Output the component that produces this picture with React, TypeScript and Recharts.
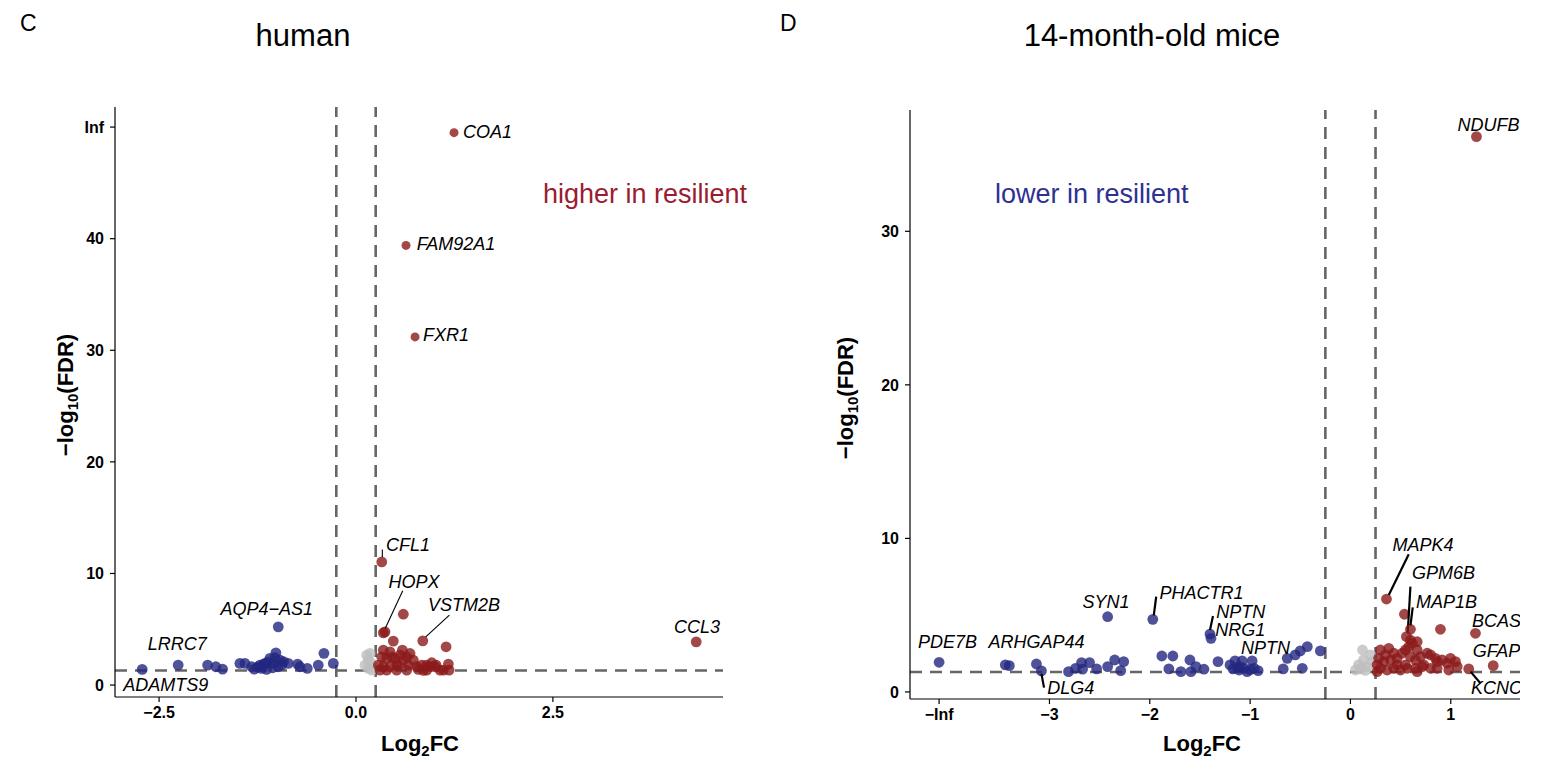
import React from "react"
import { ScatterChart, Scatter, XAxis, YAxis, ReferenceLine } from "recharts"

// ── Panel C: human ────────────────────────────────────────────────────
// [log2FC, -log10(FDR)]
const humanDown: [number, number][] = [
  [-1.884, 1.79], [-1.779, 1.64], [-1.694, 1.43], [-1.474, 1.94], [-1.41, 1.94],
  [-1.325, 1.64], [-1.292, 1.43], [-1.22, 1.79], [-1.156, 1.94], [-1.135, 1.4],
  [-1.093, 2.39], [-1.051, 1.94], [-1.017, 2.89], [-0.966, 2.24], [-0.944, 1.79],
  [-0.86, 1.94], [-0.741, 1.88], [-0.712, 1.64], [-0.619, 1.49], [-0.479, 1.79],
  [-0.407, 2.84], [-0.288, 1.94], [-1.058, 1.55], [-1.178, 1.85], [-0.99, 1.64],
  [-1.25, 1.6], [-1.12, 2.05], [-0.92, 2.1], [-1.03, 2.45], [-1.2, 1.5],
]
const humanUp: [number, number][] = [
  [0.601, 6.35], [0.368, 4.77], [0.474, 3.94], [1.144, 3.43], [0.347, 3.13],
  [0.432, 2.98], [0.589, 3.13], [0.686, 2.83], [0.326, 2.53], [0.39, 2.39],
  [0.496, 2.39], [0.601, 2.24], [0.728, 2.24], [0.284, 1.79], [0.347, 1.64],
  [0.432, 1.64], [0.538, 1.79], [0.665, 1.79], [0.771, 1.64], [0.835, 1.79],
  [0.898, 1.79], [0.94, 1.64], [1.017, 1.79], [0.898, 1.34], [1.173, 1.88],
  [1.182, 1.34], [0.305, 1.34], [0.39, 1.34], [0.517, 1.34], [0.644, 1.34],
  [0.792, 1.4], [0.855, 1.32], [1.067, 1.34], [1.11, 1.34], [0.517, 1.79],
  [0.454, 2.53], [0.559, 2.68], [0.644, 2.53], [1.004, 1.64], [0.962, 2.0],
]
const humanNs: [number, number][] = [
  [0.136, 2.68], [0.156, 2.24], [0.178, 2.84], [0.114, 1.79], [0.156, 1.49],
  [0.199, 1.94], [0.2, 1.34],
]
// [gene, log2FC, -log10(FDR), side]
const humanGenes: [string, number, number, string][] = [
  ["COA1", 1.245, 49.5, "top"],
  ["FAM92A1", 0.635, 39.4, "top"],
  ["FXR1", 0.75, 31.2, "top"],
  ["CFL1", 0.327, 11.03, "up"],
  ["HOPX", 0.347, 4.68, "up"],
  ["VSTM2B", 0.848, 3.96, "up"],
  ["CCL3", 4.32, 3.87, "up"],
  ["AQP4\u2212AS1", -0.987, 5.22, "down"],
  ["LRRC7", -2.258, 1.79, "down"],
  ["ADAMTS9", -2.715, 1.4, "down"],
]
// label offset (text centre) and optional leader, in px from the point
const humanLabelPos: [number, number, number[] | null][] = [
  [33.5, -1, null],
  [50, -1, null],
  [31, -2, null],
  [26.3, -16.7, [0.6, -12.4, 0.6, -5]],
  [30.7, -50.7, [19.4, -42, 2, -4.5]],
  [41.3, -35.7, [26.6, -25.7, 3, -4]],
  [0.7, -14.7, null],
  [-11.6, -17.7, null],
  [-0.8, -21, null],
  [23.7, 15.7, null],
]
const humanXTicks = [-2.5, 0, 2.5]
const humanYTicks = [0, 10, 20, 30, 40, 50]

// ── Panel D: 14-month-old mice ────────────────────────────────────────
const miceDown: [number, number][] = [
  [-3.44, 1.76], [-3.4, 1.71], [-2.81, 1.32], [-2.74, 1.54], [-2.68, 1.91],
  [-2.67, 1.48], [-2.6, 1.91], [-2.53, 1.5], [-2.42, 1.65], [-2.35, 2.08],
  [-2.29, 1.39], [-2.26, 1.97], [-1.88, 2.34], [-1.77, 2.34], [-1.81, 1.5],
  [-1.69, 1.32], [-1.6, 2.08], [-1.59, 1.32], [-1.54, 1.65], [-1.46, 1.48],
  [-1.32, 1.97], [-1.2, 1.76], [-1.17, 1.5], [-1.11, 1.43], [-1.08, 2.02],
  [-1.06, 1.54], [-1.03, 1.32], [-0.96, 1.54], [-0.92, 1.39], [-1.1, 1.65],
  [-1.15, 2.02], [-0.67, 1.5], [-0.63, 2.19], [-0.55, 2.41], [-0.5, 2.67],
  [-0.43, 2.95], [-0.48, 1.54], [-0.3, 2.67], [-1.0, 1.45], [-1.13, 1.6],
]
const miceUp: [number, number][] = [
  [0.538, 5.06], [0.897, 4.08], [0.598, 3.38], [0.665, 3.27], [0.299, 2.73],
  [0.382, 2.84], [0.282, 2.19], [0.332, 1.97], [0.399, 2.08], [0.465, 2.19],
  [0.515, 2.52], [0.548, 2.73], [0.582, 2.95], [0.615, 3.17], [0.598, 2.3],
  [0.648, 2.08], [0.698, 2.3], [0.765, 2.52], [0.798, 2.41], [0.847, 2.19],
  [0.864, 1.97], [0.914, 2.08], [0.964, 1.87], [0.997, 2.19], [1.047, 1.97],
  [0.98, 1.43], [1.064, 1.65], [0.299, 1.54], [0.366, 1.43], [0.432, 1.54],
  [0.499, 1.43], [0.565, 1.54], [0.648, 1.54], [0.715, 1.65], [0.798, 1.54],
  [0.864, 1.54], [0.665, 1.32], [0.266, 1.76], [0.465, 1.76], [0.548, 1.76],
  [0.349, 2.41], [0.432, 2.52], [0.665, 2.73], [0.731, 1.76], [0.266, 1.32],
]
const miceNs: [number, number][] = [
  [0.12, 2.73], [0.13, 2.08], [0.08, 1.76], [0.17, 1.65], [0.05, 1.43],
  [0.22, 1.97], [0.2, 2.41], [0.15, 1.4], [0.1, 1.5],
]
const miceGenes: [string, number, number, string][] = [
  ["NDUFB", 1.256, 36.17, "up"],
  ["MAPK4", 0.359, 6.05, "up"],
  ["GPM6B", 0.558, 3.6, "up"],
  ["MAP1B", 0.598, 4.08, "up"],
  ["BCAS", 1.246, 3.82, "up"],
  ["GFAP", 1.423, 1.71, "up"],
  ["KCNC", 1.179, 1.5, "up"],
  ["PDE7B", -4.1, 1.93, "down"],
  ["ARHGAP44", -3.13, 1.82, "down"],
  ["DLG4", -3.08, 1.37, "down"],
  ["SYN1", -2.42, 4.9, "down"],
  ["PHACTR1", -1.97, 4.73, "down"],
  ["NPTN", -1.4, 3.77, "down"],
  ["NRG1", -1.39, 3.49, "down"],
  ["NPTN", -0.98, 2.02, "down"],
]
const miceLabelPos: [number, number, number[] | null][] = [
  [12, -12, null],
  [36.5, -54, [22.3, -44.7, 2.3, -4]],
  [37, -63.7, [4, -50, 1.3, -4]],
  [36, -27.3, [2.3, -22, 0, -4]],
  [21, -12.3, null],
  [3.3, -14.7, null],
  [27.7, 19, [11.7, 14.3, 2, 3]],
  [8.5, -20.3, null],
  [0, -22, null],
  [29.3, 17, [2.6, 16.7, 0, 3]],
  [-1.7, -14.7, null],
  [48.7, -26.3, [3.4, -22.6, 1, -4]],
  [30.7, -22.5, [3, -18, 0, -4]],
  [29.3, -8, null],
  [13.3, -12.5, null],
]
const miceXTicks = [-4.1, -3, -2, -1, 0, 1]
const miceYTicks = [0, 10, 20, 30]

// ── Styling ───────────────────────────────────────────────────────────
const FONT = "'Liberation Sans', Arial, Helvetica, sans-serif"
const RED = "#8B1A1A"
const BLUE = "#23277F"
const GREY = "#BEBEBE"
const DASH = { stroke: "#666666", strokeWidth: 2.6, strokeDasharray: "12 8" }
const tickStyle = { fontSize: 16, fontWeight: 700, fill: "#000", fontFamily: FONT }
const minus = (s: string) => s.replace("-", "\u2212")

const toPts = (arr: [number, number][]) => arr.map(([x, y]) => ({ x, y }))

const dot = (fill: string, r = 5.4) => (p: any) => (
  <circle cx={p.cx} cy={p.cy} r={r} fill={fill} fillOpacity={0.8} />
)

const labelled = (lineWidth: number) => (p: any) => {
  const d = p.payload
  const fill = d.side === "down" ? BLUE : RED
  const r = d.side === "top" ? 4.5 : 5.4
  const [dx, dy, seg] = d.pos
  return (
    <g>
      <circle cx={p.cx} cy={p.cy} r={r} fill={fill} fillOpacity={0.8} />
      {seg && (
        <line
          x1={p.cx + seg[0]} y1={p.cy + seg[1]} x2={p.cx + seg[2]} y2={p.cy + seg[3]}
          stroke="#000" strokeWidth={lineWidth}
        />
      )}
      <text
        x={p.cx + dx} y={p.cy + dy} textAnchor="middle" dominantBaseline="central"
        fontSize={18} fontStyle="italic" fontFamily={FONT} fill="#000"
      >
        {d.gene}
      </text>
    </g>
  )
}

interface PanelProps {
  left: number
  width: number
  margin: { top: number; right: number; bottom: number; left: number }
  xDomain: number[]
  yDomain: number[]
  xTicks: number[]
  yTicks: number[]
  xFmt: (v: number) => string
  yFmt: (v: number) => string
  down: [number, number][]
  up: [number, number][]
  ns: [number, number][]
  genes: [string, number, number, string][]
  labelPos: [number, number, number[] | null][]
  lineWidth: number
}

function Volcano(props: PanelProps) {
  const labels = props.genes.map(([gene, x, y, side], i) => ({
    gene, x, y, side, pos: props.labelPos[i],
  }))
  return (
    <div style={{ position: "absolute", left: props.left, top: 0 }}>
      <ScatterChart width={props.width} height={760} margin={props.margin}>
        <XAxis
          type="number" dataKey="x" domain={props.xDomain} ticks={props.xTicks}
          interval={0} allowDataOverflow height={40} tickFormatter={props.xFmt}
          tick={tickStyle} tickSize={5} tickMargin={5}
          axisLine={{ stroke: "#000", strokeWidth: 1.2 }}
          tickLine={{ stroke: "#000", strokeWidth: 1.2 }}
        />
        <YAxis
          type="number" dataKey="y" domain={props.yDomain} ticks={props.yTicks}
          interval={0} allowDataOverflow width={50} tickFormatter={props.yFmt}
          tick={tickStyle} tickSize={5} tickMargin={6}
          axisLine={{ stroke: "#000", strokeWidth: 1.2 }}
          tickLine={{ stroke: "#000", strokeWidth: 1.2 }}
        />
        <Scatter data={toPts(props.ns)} shape={dot(GREY)} isAnimationActive={false} />
        <Scatter data={toPts(props.down)} shape={dot(BLUE)} isAnimationActive={false} />
        <Scatter data={toPts(props.up)} shape={dot(RED)} isAnimationActive={false} />
        <Scatter data={labels} shape={labelled(props.lineWidth)} isAnimationActive={false} />
        <ReferenceLine x={-0.25} {...DASH} />
        <ReferenceLine x={0.25} {...DASH} />
        <ReferenceLine y={1.301} {...DASH} />
      </ScatterChart>
    </div>
  )
}

export default function App() {
  return (
    <div style={{ position: "absolute", left: 0, top: 0, width: 1563, height: 760, background: "#fff", fontFamily: FONT }}>
      <Volcano
        left={0} width={760}
        margin={{ top: 107, right: 37, bottom: 23, left: 65 }}
        xDomain={[-3.06, 4.66]} yDomain={[-1.07, 51.8]}
        xTicks={humanXTicks} yTicks={humanYTicks}
        xFmt={(v) => minus(v.toFixed(1))}
        yFmt={(v) => (v === 50 ? "Inf" : String(v))}
        down={humanDown} up={humanUp} ns={humanNs}
        genes={humanGenes} labelPos={humanLabelPos} lineWidth={1.1}
      />
      <Volcano
        left={780} width={783}
        margin={{ top: 110, right: 43, bottom: 21, left: 80 }}
        xDomain={[-4.39, 1.69]} yDomain={[-0.46, 37.9]}
        xTicks={miceXTicks} yTicks={miceYTicks}
        xFmt={(v) => (v < -4 ? "\u2212Inf" : minus(String(v)))}
        yFmt={(v) => String(v)}
        down={miceDown} up={miceUp} ns={miceNs}
        genes={miceGenes} labelPos={miceLabelPos} lineWidth={2.2}
      />
      <svg width={1563} height={760} style={{ position: "absolute", left: 0, top: 0, pointerEvents: "none" }} fontFamily={FONT}>
        <text x={20} y={31} fontSize={23}>C</text>
        <text x={780} y={31} fontSize={23}>D</text>
        <text x={303} y={46} fontSize={31} textAnchor="middle">human</text>
        <text x={1152} y={46} fontSize={31} textAnchor="middle">14-month-old mice</text>
        <text x={543} y={203} fontSize={27} fill="#9B1B30">higher in resilient</text>
        <text x={995} y={203} fontSize={27} fill="#2E3192">lower in resilient</text>
        <text x={420} y={751} fontSize={22} fontWeight={700} textAnchor="middle">
          Log<tspan fontSize={15} dy={5}>2</tspan><tspan dy={-5}>FC</tspan>
        </text>
        <text x={1202} y={751} fontSize={22} fontWeight={700} textAnchor="middle">
          Log<tspan fontSize={15} dy={5}>2</tspan><tspan dy={-5}>FC</tspan>
        </text>
        <text transform="translate(73,395) rotate(-90)" fontSize={22} fontWeight={700} textAnchor="middle">
          {"\u2212log"}<tspan fontSize={15} dy={5}>10</tspan><tspan dy={-5}>(FDR)</tspan>
        </text>
        <text transform="translate(853,398) rotate(-90)" fontSize={22} fontWeight={700} textAnchor="middle">
          {"\u2212log"}<tspan fontSize={15} dy={5}>10</tspan><tspan dy={-5}>(FDR)</tspan>
        </text>
      </svg>
    </div>
  )
}
